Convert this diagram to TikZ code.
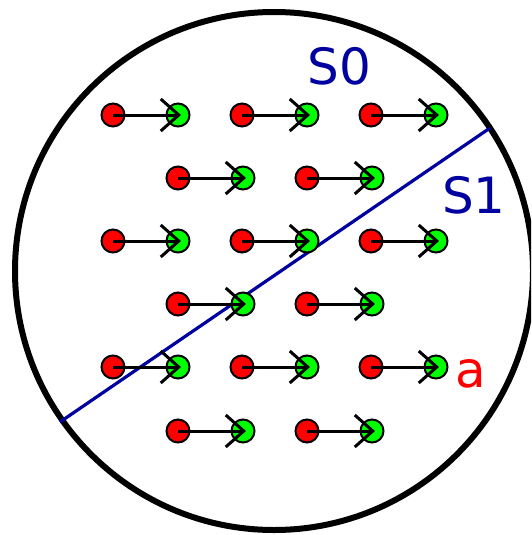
\documentclass[tikz,border=0pt]{standalone}
\usepackage{fontspec}
\setmainfont{DejaVu Sans}
\usetikzlibrary{arrows.meta}
\definecolor{sblue}{RGB}{0,0,160}
\begin{document}
\begin{tikzpicture}[x=1pt,y=-1pt,
  reddot/.style={circle,draw=black,line width=2pt,fill=red,minimum size=23pt,inner sep=0pt},
  greendot/.style={circle,draw=black,line width=2pt,fill=green,minimum size=23pt,inner sep=0pt},
  arr/.style={draw=black,line width=3pt,shorten >=-3pt,-{Straight Barb[length=18pt,width=32pt,line width=3pt]}},
  lbl/.style={font=\fontsize{50}{50}\selectfont,inner sep=0pt}]
\useasboundingbox (0,0) rectangle (531,535);
\clip (0,0) rectangle (531,535);
\fill[white] (0,0) rectangle (531,535);
\coordinate (c0) at (274,271);
\draw[line width=6pt] (c0) circle[radius=259];
\coordinate (bl) at (60,422);
\coordinate (br) at (490,128);
\draw[sblue,line width=3.2pt] (bl) -- (br);
\foreach \y/\row in {115/1,241/3,367/5}{
  \foreach \x/\col in {113/1,242/2,371/3}{
    \node[greendot] (g\row\col) at (\x+65,\y) {};
    \node[reddot] (r\row\col) at (\x,\y) {};
    \draw[arr] (r\row\col.center) -- (g\row\col.center);
  }
}
\foreach \y/\row in {178/2,304/4,431/6}{
  \foreach \x/\col in {178/1,307/2}{
    \node[greendot] (g\row\col) at (\x+65,\y) {};
    \node[reddot] (r\row\col) at (\x,\y) {};
    \draw[arr] (r\row\col.center) -- (g\row\col.center);
  }
}
\node[lbl,text=sblue] (s0) at (339.5,66) {S0};
\node[lbl,text=sblue] (s1) at (474,195) {S1};
\node[lbl,text=red,anchor=base] (a) at (470.5,387) {a};
\end{tikzpicture}
\end{document}
